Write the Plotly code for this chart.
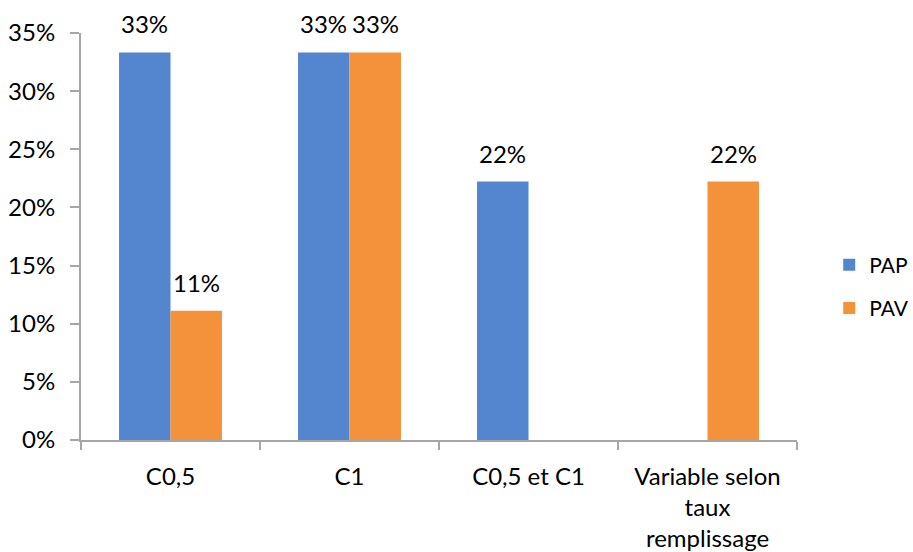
import plotly.graph_objects as go

categories = ["C0,5", "C1", "C0,5 et C1", "Variable selon<br>taux<br>remplissage"]
pap = [1/3, 1/3, 2/9, None]
pav = [1/9, 1/3, None, 2/9]
series = [("PAP", pap, "#5485CF"), ("PAV", pav, "#F3923A")]

FONT = "Lato"
FS = 24
AXIS_GRAY = "#A6A6A6"
BARGAP = 0.425

fig = go.Figure()
for i, (name, vals, color) in enumerate(series):
    fig.add_trace(go.Bar(
        name=name, x=categories, y=vals,
        marker=dict(color=color, line=dict(width=0)),
        legendgroup=name,
    ))

# value labels above the bars, positioned at each bar's centre within its group
half = (1 - BARGAP) / 4
for i, (name, vals, color) in enumerate(series):
    off = -half if i == 0 else half
    for k, v in enumerate(vals):
        if v is None:
            continue
        fig.add_annotation(
            x=k + off, y=v, xref="x", yref="y",
            text=f"{v:.0%}", showarrow=False,
            yanchor="bottom", yshift=12,
            font=dict(family=FONT, size=FS, color="#000000"),
        )

fig.update_layout(
    width=913, height=552,
    margin=dict(l=81, r=116, t=33, b=112, autoexpand=False),
    paper_bgcolor="white", plot_bgcolor="white",
    barmode="group", bargap=BARGAP, bargroupgap=0,
    font=dict(family=FONT, size=FS, color="#000000"),
    showlegend=True,
    legend=dict(x=1.045, y=0.377, yanchor="middle", xanchor="left",
                tracegroupgap=13, traceorder="grouped",
                font=dict(family=FONT, size=21)),
    xaxis=dict(
        showline=True, linecolor=AXIS_GRAY, linewidth=2,
        ticks="outside", tickson="boundaries", ticklen=8, tickwidth=2,
        tickcolor=AXIS_GRAY, showgrid=False, ticklabelstandoff=14,
        automargin=False,
    ),
    yaxis=dict(
        range=[0, 0.35], dtick=0.05, tickformat=".0%",
        showline=True, linecolor=AXIS_GRAY, linewidth=2,
        ticks="outside", ticklen=9, tickwidth=2, tickcolor=AXIS_GRAY,
        showgrid=False, zeroline=False, ticklabelstandoff=10,
        automargin=False,
    ),
)

fig.write_html("out.html")
